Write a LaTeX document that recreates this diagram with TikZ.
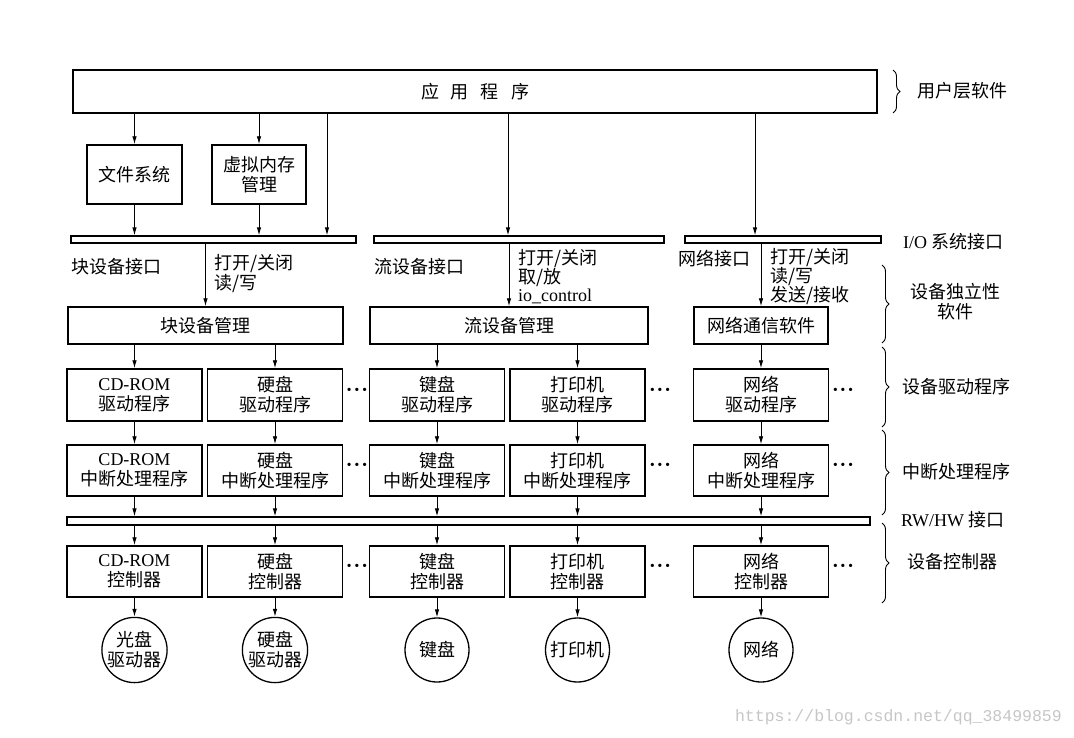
\documentclass[tikz,border=0pt]{standalone}
\usepackage{fontspec}
\setmainfont{Liberation Serif}
\setmonofont{Liberation Mono}
\newfontfamily\cjk{Noto Sans CJK SC}
\usetikzlibrary{positioning,decorations.pathreplacing,arrows.meta}
\newcommand{\cdrom}{{\rmfamily CD-ROM}}
\tikzset{
  box/.style={draw, line width=1.5pt, inner sep=0pt, align=center},
  bar/.style={draw, line width=1.3pt, inner sep=0pt, minimum height=7pt},
  dev/.style={draw, circle, line width=1.3pt, inner sep=0pt, minimum size=64pt, align=center},
  link/.style={-{Latex[length=8pt,width=4.5pt]}, line width=0.9pt},
  brc/.style={decorate, decoration={brace, amplitude=7pt}, line width=0.9pt},
  lbl/.style={inner sep=0pt, align=left, anchor=west},
}

\begin{document}
\begin{tikzpicture}[x=1pt, y=-1pt, font={\fontsize{18}{20}\selectfont\cjk}]
    \useasboundingbox (0,0) rectangle (1074,737);
    \coordinate (Direct) at (327,0);% arrow straight to the I/O interface
    \coordinate (StrIn)  at (508,0);
    \coordinate (NetIn)  at (755,0);

    % user level and I/O system interface
    \node[box, minimum width=804pt, minimum height=43pt] (app) at (475,91.5)
        {应\hspace{12pt}用\hspace{12pt}程\hspace{12pt}序};
    \node[box, minimum width=95pt, minimum height=59pt] (fs) at (134.5,174.5) {文件系统};
    \node[box, minimum width=94pt, minimum height=59pt] (vm) at (259,174.5) {虚拟内存\\管理};
    \node[bar, minimum width=285pt] (ioblk) at (213.5,239.5) {};
    \node[bar, minimum width=290pt] (iostr) at (519,239.5) {};
    \node[bar, minimum width=196pt] (ionet) at (783,239.5) {};

    \draw[link] (app.south -| fs) -- (fs);
    \draw[link] (app.south -| vm) -- (vm);
    \draw[link] (fs) -- (fs |- ioblk.north);
    \draw[link] (vm) -- (vm |- ioblk.north);
    \draw[link] (app.south -| Direct) -- (ioblk.north -| Direct);
    \draw[link] (app.south -| StrIn) -- (iostr.north -| StrIn);
    \draw[link] (app.south -| NetIn) -- (ionet.north -| NetIn);

    % device independent software
    \node[box, minimum width=275pt, minimum height=37pt] (blk) at (205.5,325.5) {块设备管理};
    \node[box, minimum width=278pt, minimum height=37pt] (str) at (509,325.5) {流设备管理};
    \node[box, minimum width=134pt, minimum height=37pt] (net) at (761,325.5) {网络通信软件};
    \draw[link] (ioblk.south -| blk) -- (blk);
    \draw[link] (iostr.south -| str) -- (str);
    \draw[link] (ionet.south -| net) -- (net);

    \node[lbl] (blkif) at (71,267) {块设备接口};
    \node[lbl] (blkop) at (214,274) {打开/关闭\\读/写};
    \node[lbl] (strif) at (374,267) {流设备接口};
    \node[lbl, font={\fontsize{18}{18}\selectfont\cjk}] (strop) at (518,276.5)
        {打开/关闭\\取/放\\{\rmfamily io\_control}};
    \node[lbl] (netif) at (678,259) {网络接口};
    \node[lbl, font={\fontsize{18}{18}\selectfont\cjk}] (netop) at (770,276.5)
        {打开/关闭\\读/写\\发送/接收};

    % drivers, interrupt handlers, controllers
    \node[bar, minimum width=803pt, minimum height=8pt] (rwhw) at (468.5,521) {};
    \foreach \n/\x/\t in {cd/134.5/\cdrom, hd/275/硬盘, kb/437/键盘, pr/577.5/打印机, nw/761/网络}{
      \node[box, minimum width=135pt, minimum height=52pt] (drv-\n) at (\x,395) {\t\\驱动程序};
      \node[box, minimum width=135pt, minimum height=51pt] (isr-\n) at (\x,470.5) {\t\\中断处理程序};
      \node[box, minimum width=135pt, minimum height=51pt] (ctl-\n) at (\x,571.5) {\t\\控制器};
      \draw[link] (drv-\n) -- (isr-\n);
      \draw[link] (isr-\n) -- (isr-\n |- rwhw.north);
      \draw[link] (rwhw.south -| ctl-\n) -- (ctl-\n);
    }
    \draw[link] (blk.south -| drv-cd) -- (drv-cd);
    \draw[link] (blk.south -| drv-hd) -- (drv-hd);
    \draw[link] (str.south -| drv-kb) -- (drv-kb);
    \draw[link] (str.south -| drv-pr) -- (drv-pr);
    \draw[link] (net.south -| drv-nw) -- (drv-nw);

    % devices
    \foreach \n/\x/\d in {cd/134.5/{光盘\\驱动器}, hd/275/{硬盘\\驱动器}, kb/437/键盘, pr/577.5/打印机, nw/761/网络}{
      \node[dev] (dev-\n) at (\x,650) {\d};
      \draw[link] (ctl-\n) -- (dev-\n);
    }
    \foreach \y [count=\i] in {392,467,568}{
      \foreach \x [count=\j] in {357,660,843}{
        \node[inner sep=0pt, font={\fontsize{20}{20}\selectfont\rmfamily\bfseries}] (dots-\i-\j) at (\x,\y) {·\kern1pt·\kern1pt·};
      }
    }

    % layers on the right
    \draw[brc] (893,70) -- (893,113);
    \node[lbl] (usr) at (917,91) {用户层软件};
    \node[lbl] (ioif) at (903,242) {{\rmfamily I/O} 系统接口};
    \draw[brc] (882,265) -- (882,343);
    \node[inner sep=0pt, align=center] (indep) at (955,302) {设备独立性\\软件};
    \draw[brc] (882,347) -- (882,427);
    \node[lbl] (drvl) at (902,387) {设备驱动程序};
    \draw[brc] (882,430) -- (882,515);
    \node[lbl] (isrl) at (902,472) {中断处理程序};
    \node[lbl] (rwl) at (901,520) {{\rmfamily RW/HW} 接口};
    \draw[brc] (882,523) -- (882,603);
    \node[lbl] (ctll) at (907,562) {设备控制器};

    \node[anchor=east, inner sep=0pt, text=gray!45, font={\fontsize{16.5}{18}\selectfont\ttfamily}]
        (url) at (1062,717) {https://blog.csdn.net/qq\_38499859};
\end{tikzpicture}
\end{document}
